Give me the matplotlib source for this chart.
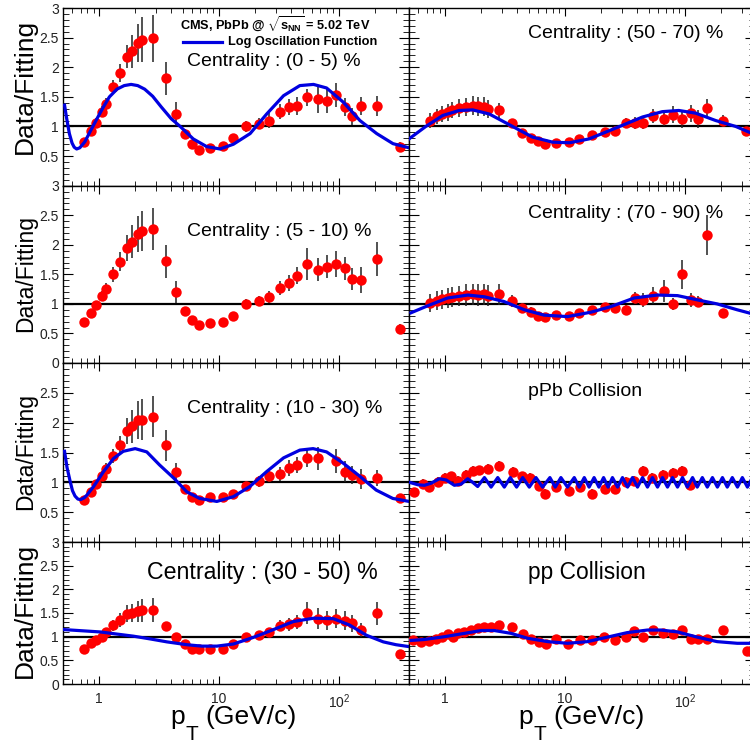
import numpy as np
import matplotlib
matplotlib.use('Agg')
import matplotlib.pyplot as plt
from matplotlib.ticker import FixedLocator, LogLocator, MultipleLocator, NullFormatter

plt.rcParams['font.family'] = ['Liberation Sans', 'DejaVu Sans']
plt.rcParams['mathtext.fontset'] = 'custom'
plt.rcParams['mathtext.rm'] = 'Liberation Sans'
plt.rcParams['mathtext.it'] = 'Liberation Sans:italic'
plt.rcParams['mathtext.bf'] = 'Liberation Sans:bold'

# pT bin centres (GeV/c) for the PbPb centrality classes
pt = [0.75, 0.85, 0.95, 1.05, 1.15, 1.3, 1.5, 1.7, 1.9, 2.1, 2.3, 2.8, 3.6, 4.4, 5.2, 6.0, 6.8, 8.4,
      10.8, 13.2, 16.8, 21.6, 26.4, 32.0, 38.4, 44.8, 54.4, 67.2, 80.0, 95.0, 112.0, 130.0, 152.0, 207.0, 325.0]
nan = np.nan

# Data/Fitting ratios and errors
r_0_5 = [0.74, 0.92, 1.06, 1.25, 1.38, 1.66, 1.90, 2.18, 2.27, 2.41, 2.46, 2.49, 1.81, 1.21, 0.87, 0.70, 0.61, 0.64,
         0.67, 0.81, 1.00, 1.05, 1.10, 1.25, 1.33, 1.34, 1.49, 1.46, 1.43, 1.53, 1.33, 1.17, 1.35, 1.34, 0.66]
e_0_5 = [0.06, 0.07, 0.08, 0.09, 0.1, 0.12, 0.15, 0.2, 0.28, 0.32, 0.38, 0.4, 0.28, 0.2, 0.08, 0.06, 0.05, 0.06,
         0.06, 0.07, 0.1, 0.1, 0.12, 0.13, 0.14, 0.15, 0.15, 0.24, 0.2, 0.2, 0.15, 0.15, 0.15, 0.17, 0.07]

r_5_10 = [0.69, 0.84, 0.98, 1.14, 1.25, 1.50, 1.71, 1.95, 2.05, 2.18, 2.24, 2.27, 1.72, 1.20, 0.88, 0.73, 0.64, 0.68,
          0.70, 0.80, 1.00, 1.05, 1.11, 1.27, 1.35, 1.48, 1.68, 1.58, 1.63, 1.68, 1.60, 1.42, 1.40, 1.76, 0.58]
e_5_10 = [0.05, 0.06, 0.07, 0.08, 0.1, 0.13, 0.16, 0.22, 0.28, 0.3, 0.34, 0.36, 0.28, 0.18, 0.07, 0.06, 0.05, 0.05,
          0.06, 0.07, 0.08, 0.09, 0.1, 0.12, 0.14, 0.15, 0.27, 0.2, 0.2, 0.22, 0.2, 0.18, 0.22, 0.28, 0.08]

r_10_30 = [0.71, 0.83, 0.97, 1.11, 1.23, 1.44, 1.62, 1.86, 1.94, 2.04, 2.05, 2.10, 1.62, 1.17, 0.88, 0.76, 0.71, 0.75,
           0.76, 0.80, 0.94, 1.02, 1.10, 1.14, 1.24, 1.29, 1.40, 1.40, nan, 1.36, 1.18, 1.12, 1.06, 1.07, 0.74]
e_10_30 = [0.05, 0.06, 0.07, 0.08, 0.1, 0.12, 0.16, 0.22, 0.28, 0.32, 0.34, 0.34, 0.26, 0.15, 0.07, 0.06, 0.05, 0.05,
           0.06, 0.06, 0.08, 0.09, 0.1, 0.11, 0.13, 0.14, 0.15, 0.2, 0.0, 0.2, 0.17, 0.15, 0.17, 0.13, 0.06]

r_30_50 = [0.75, 0.86, 0.93, 1.00, 1.10, 1.24, 1.35, 1.48, 1.50, 1.54, 1.56, 1.56, 1.23, 1.00, 0.84, 0.75, 0.74, 0.74,
           0.75, 0.84, 0.99, 1.03, 1.09, 1.23, 1.26, 1.31, 1.50, 1.38, 1.35, 1.38, 1.34, 1.28, 1.14, 1.49, 0.63]
e_30_50 = [0.05, 0.06, 0.07, 0.08, 0.09, 0.12, 0.15, 0.18, 0.2, 0.22, 0.24, 0.25, 0.08, 0.06, 0.05, 0.05, 0.05, 0.05,
           0.05, 0.06, 0.08, 0.08, 0.1, 0.12, 0.14, 0.15, 0.24, 0.22, 0.2, 0.2, 0.2, 0.18, 0.15, 0.24, 0.07]

r_50_70 = [1.10, 1.17, 1.21, 1.24, 1.28, 1.31, 1.33, 1.35, 1.34, 1.33, 1.30, 1.27, 1.06, 0.89, 0.81, 0.75, 0.70, 0.72,
           0.74, 0.78, 0.85, 0.90, 0.92, 1.06, 1.06, 1.06, 1.18, 1.13, 1.20, 1.12, 1.22, 1.13, 1.31, 1.10, 0.93]
e_50_70 = [0.12, 0.13, 0.13, 0.14, 0.14, 0.15, 0.15, 0.16, 0.16, 0.16, 0.15, 0.12, 0.07, 0.06, 0.05, 0.05, 0.05, 0.05,
           0.05, 0.06, 0.06, 0.07, 0.08, 0.09, 0.1, 0.11, 0.12, 0.13, 0.14, 0.15, 0.15, 0.15, 0.15, 0.1, 0.05]

r_70_90 = [1.01, 1.05, 1.08, 1.10, 1.12, 1.14, 1.15, 1.16, 1.15, 1.16, 1.14, 1.16, 1.05, 0.93, 0.87, 0.80, 0.77, 0.81,
           0.80, 0.84, 0.90, 0.94, 0.93, 0.90, 1.10, 1.07, 1.14, 1.22, 1.00, 1.50, 1.07, 1.04, 2.16, 0.85, nan]
e_70_90 = [0.15, 0.16, 0.16, 0.17, 0.17, 0.17, 0.18, 0.18, 0.18, 0.18, 0.18, 0.18, 0.1, 0.08, 0.07, 0.06, 0.06, 0.06,
           0.06, 0.07, 0.07, 0.08, 0.08, 0.08, 0.1, 0.12, 0.14, 0.18, 0.1, 0.24, 0.12, 0.1, 0.34, 0.07, 0.0]

pt_ppb = [0.55, 0.65, 0.74, 0.87, 0.99, 1.12, 1.27, 1.5, 1.7, 1.93, 2.29, 2.83, 3.66, 4.37, 5.1, 6.1, 6.8, 8.5,
          10.8, 13.3, 16.8, 21.5, 26.1, 32.0, 37.8, 44.7, 53.7, 66.0, 79.4, 94.0, 110.0]
r_ppb = [0.83, 0.97, 0.92, 1.01, 1.07, 1.10, 1.02, 1.12, 1.19, 1.20, 1.22, 1.28, 1.17, 1.10, 1.08, 0.94, 0.80, 0.92,
         0.85, 0.92, 0.80, 0.89, 0.89, 1.01, 1.03, 1.19, 1.08, 1.12, 1.16, 1.19, 0.955]
e_ppb = [0.08] * len(r_ppb)

pt_pp = [0.54, 0.63, 0.74, 0.84, 0.95, 1.05, 1.16, 1.27, 1.45, 1.65, 1.87, 2.13, 2.41, 2.83, 3.59, 4.43, 5.2, 6.1,
         6.9, 8.5, 10.7, 13.3, 16.8, 21.3, 26.3, 32.2, 37.8, 45.2, 54.0, 65.6, 79.4, 94.0, 112.0, 129.0, 152.0, 209.0, 330.0]
r_pp = [0.93, 0.89, 0.91, 0.96, 1.00, 1.06, 1.00, 1.07, 1.10, 1.14, 1.18, 1.20, 1.20, 1.25, 1.20, 1.05, 0.95, 0.88,
        0.845, 0.95, 0.845, 0.93, 0.93, 1.00, 0.93, 1.00, 1.13, 0.99, 1.15, 1.08, 1.06, 1.15, 0.96, 0.95, 0.95, 1.14, 0.70]
e_pp = [0.06] * len(r_pp)

# log oscillation fit curves
fx_0_5 = [0.515, 0.535, 0.565, 0.595, 0.62, 0.65, 0.69, 0.76, 0.85, 0.96, 1.08, 1.22, 1.41, 1.62, 1.85, 2.1, 2.4,
          2.8, 3.3, 4.0, 4.75, 6.1, 7.9, 10.2, 13.2, 18.2, 25, 34.6, 47.3, 61.5, 79, 109, 150, 207, 283, 385]
fy_0_5 = [1.36, 1.15, 0.88, 0.72, 0.65, 0.62, 0.64, 0.74, 0.93, 1.13, 1.32, 1.50, 1.63, 1.69, 1.71, 1.69, 1.63,
          1.51, 1.33, 1.13, 1.0, 0.79, 0.66, 0.62, 0.70, 0.88, 1.21, 1.52, 1.69, 1.71, 1.65, 1.41, 1.10, 0.88, 0.71, 0.64]

fx_10_30 = [0.515, 0.54, 0.573, 0.60, 0.63, 0.665, 0.70, 0.75, 0.79, 0.90, 1.09, 1.32, 1.59, 2.0, 2.5, 3.2, 4.2,
            5.4, 6.9, 9.6, 13.2, 18.1, 25, 34.6, 47.3, 61, 79, 109, 150, 205, 282, 385]
fy_10_30 = [1.52, 1.25, 1.02, 0.86, 0.77, 0.72, 0.71, 0.74, 0.785, 0.93, 1.18, 1.40, 1.52, 1.565, 1.51, 1.29, 1.07,
            0.84, 0.73, 0.68, 0.76, 0.93, 1.18, 1.41, 1.54, 1.565, 1.51, 1.32, 1.10, 0.87, 0.73, 0.68]

fx_30_50 = [0.505, 1.02, 1.94, 2.7, 3.68, 5.4, 7.2, 9.6, 13.2, 19.4, 28.5, 41.8, 61.5, 90, 123, 170, 235, 300, 385]
fy_30_50 = [1.15, 1.10, 1.01, 0.95, 0.89, 0.83, 0.80, 0.80, 0.845, 0.985, 1.15, 1.32, 1.39, 1.38, 1.245, 1.03, 0.89,
            0.83, 0.79]

fx_50_70 = [0.5, 0.69, 0.955, 1.31, 1.70, 2.34, 3.66, 5.37, 7.9, 10.9, 15.9, 21.9, 30.2, 44.4, 64.9, 89, 123, 181,
            266, 343, 385]
fy_50_70 = [0.79, 1.0, 1.185, 1.27, 1.28, 1.21, 1.0, 0.82, 0.735, 0.725, 0.79, 0.905, 1.02, 1.16, 1.25, 1.27, 1.225,
            1.10, 1.0, 0.905, 0.87]

fx_70_90 = [0.52, 0.74, 1.05, 1.55, 2.13, 3.1, 4.6, 6.7, 10.5, 16.5, 24.2, 37.8, 59, 87, 126, 186, 274, 385]
fy_70_90 = [0.85, 0.98, 1.10, 1.15, 1.12, 1.04, 0.90, 0.81, 0.785, 0.86, 0.955, 1.10, 1.15, 1.14, 1.07, 1.0, 0.90,
            0.82]

fx_ppb = [0.504, 0.591, 0.672, 0.764, 0.896, 1.019, 1.195, 1.36, 1.544, 1.70, 1.87, 2.13, 2.42, 2.75, 3.12, 3.50,
          3.95, 4.44, 5.04, 5.73, 6.51, 7.49, 8.30, 9.25, 10.5, 11.96, 13.15, 14.5, 15.9, 17.5, 19.2, 21.0, 22.9,
          24.9, 27.5, 30.2, 33.3, 36.6, 40.3, 44.4, 48.8, 53.7, 59.2, 65.1, 71.7, 78.9, 86.9, 95.6, 105, 116, 127,
          140, 154, 170, 187, 206, 226, 249, 275, 302, 333, 366, 385]
fy_ppb = [1.0, 0.96, 0.95, 0.985, 1.06, 1.04, 0.95, 0.97, 1.06, 1.0, 0.93, 1.08, 0.92, 1.08, 0.92, 1.08,
          0.92, 1.08, 0.92, 1.08, 0.92, 1.08, 0.92, 1.08, 0.92, 1.08, 0.92, 1.08, 0.92, 1.08, 0.92, 1.08, 0.92,
          1.08, 0.92, 1.08, 0.92, 1.08, 0.92, 1.08, 0.92, 1.08, 0.92, 1.08, 0.92, 1.08, 0.92, 1.08, 0.92, 1.08, 0.92,
          1.08, 0.92, 1.08, 0.92, 1.08, 0.92, 1.08, 0.92, 1.08, 0.92, 1.08, 1.0]

fx_pp = [0.52, 0.67, 0.99, 1.45, 2.0, 2.57, 3.55, 4.9, 7.2, 10.5, 15.4, 22.6, 33, 48.7, 63, 87, 127, 186, 274, 385]
fy_pp = [0.92, 0.94, 1.0, 1.07, 1.13, 1.13, 1.07, 0.965, 0.895, 0.86, 0.895, 0.99, 1.085, 1.14, 1.14, 1.10, 0.99,
         0.895, 0.86, 0.86]

W, H = 750, 744
fig = plt.figure(figsize=(7.5, 7.44), dpi=100)


def box(x0, y0, x1, y1):
    return [x0 / W, 1 - y1 / H, (x1 - x0) / W, (y1 - y0) / H]


def ftext(x, y, s, size, va='center', **kw):
    fig.text(x / W, 1 - y / H, s, fontsize=size, va=va, **kw)


cols = [(63, 409), (409, 755)]
rows = [(8, 185.7), (185.7, 363), (363, 542), (542, 684)]
ylabels_shown = [[0.5, 1, 1.5, 2, 2.5, 3], [0, 0.5, 1, 1.5, 2, 2.5, 3], [0.5, 1, 1.5, 2, 2.5], [0, 0.5, 1, 1.5, 2, 2.5, 3]]

panels = [
    (0, 0, pt, r_0_5, e_0_5, fx_0_5, fy_0_5),
    (1, 0, pt, r_5_10, e_5_10, None, None),
    (2, 0, pt, r_10_30, e_10_30, fx_10_30, fy_10_30),
    (3, 0, pt, r_30_50, e_30_50, fx_30_50, fy_30_50),
    (0, 1, pt, r_50_70, e_50_70, fx_50_70, fy_50_70),
    (1, 1, pt, r_70_90, e_70_90, fx_70_90, fy_70_90),
    (2, 1, pt_ppb, r_ppb, e_ppb, fx_ppb, fy_ppb),
    (3, 1, pt_pp, r_pp, e_pp, fx_pp, fy_pp),
]

for row, col, x, y, err, fx, fy in panels:
    ax = fig.add_axes(box(cols[col][0], rows[row][0], cols[col][1], rows[row][1]))
    ax.set_xscale('log')
    ax.set_xlim(0.5, 385)
    ax.set_ylim(0, 3)
    ax.axhline(1, color='black', lw=1.6, zorder=2)
    ax.errorbar(x, y, yerr=err, fmt='none', ecolor='#222222', elinewidth=1.1, zorder=3)
    ax.plot(x, y, 'o', color='#ff0000', markersize=7.5, markeredgewidth=0, zorder=4)
    if fx is not None:
        ax.plot(fx, fy, '-', color='#0000e0', lw=2.3, zorder=5)

    ax.xaxis.set_major_locator(FixedLocator([1, 10, 100]))
    ax.xaxis.set_minor_locator(LogLocator(base=10, subs=np.arange(2, 10)))
    ax.xaxis.set_minor_formatter(NullFormatter())
    ax.yaxis.set_major_locator(MultipleLocator(0.5))
    ax.yaxis.set_minor_locator(MultipleLocator(0.1))
    ax.tick_params(which='both', direction='in', top=True, right=True, labelsize=10, labelcolor='#222222')
    ax.tick_params(axis='y', which='major', length=7, pad=3)
    ax.tick_params(axis='y', which='minor', length=4)
    ax.tick_params(axis='x', which='major', length=6, pad=6)
    ax.tick_params(axis='x', which='minor', length=3.5)
    for s in ax.spines.values():
        s.set_linewidth(1.0)

    if col == 0:
        ticks = [0, 0.5, 1, 1.5, 2, 2.5, 3]
        ax.set_yticks(ticks)
        ax.set_yticklabels([('%g' % t) if t in ylabels_shown[row] else '' for t in ticks])
    else:
        ax.set_yticklabels([])
    if row == 3:
        ax.set_xticklabels(['1', '10', r'10$^{2}$'])
    else:
        ax.set_xticklabels([])

# y axis titles
ftext(25, 86.5, 'Data/Fitting', 19, rotation=90, ha='center')
ftext(26, 273.5, 'Data/Fitting', 16.5, rotation=90, ha='center')
ftext(26, 451.5, 'Data/Fitting', 16.5, rotation=90, ha='center')
ftext(25, 610, 'Data/Fitting', 19, rotation=90, ha='center')

# x axis titles: p with a large lowered T subscript, as drawn by ROOT
for xp in (170, 518):
    ftext(xp, 724, 'p', 19, va='baseline')
    ftext(xp + 16, 740, 'T', 15, va='baseline')
    ftext(xp + 35, 724, '(GeV/c)', 19, va='baseline')

# panel labels
ftext(187, 62, 'Centrality : (0 - 5) %', 14)
ftext(187, 231, 'Centrality : (5 - 10) %', 14)
ftext(187, 409, 'Centrality : (10 - 30) %', 14)
ftext(147, 572, 'Centrality : (30 - 50) %', 16.7)
ftext(528, 33, 'Centrality : (50 - 70) %', 14)
ftext(528, 213, 'Centrality : (70 - 90) %', 14)
ftext(528, 391, 'pPb Collision', 14)
ftext(528, 573, 'pp Collision', 16.4)

# header and legend
ftext(180, 24, r'CMS, PbPb @ $\mathbf{\sqrt{s_{NN}}}$ = 5.02 TeV', 9.2, fontweight='bold')
fig.add_artist(plt.Line2D([183 / W, 222 / W], [1 - 42 / H, 1 - 42 / H], color='#0000e0', lw=2.3))
ftext(228, 42, 'Log Oscillation Function', 9.2, fontweight='bold')

fig.savefig('out.png', dpi=100)
